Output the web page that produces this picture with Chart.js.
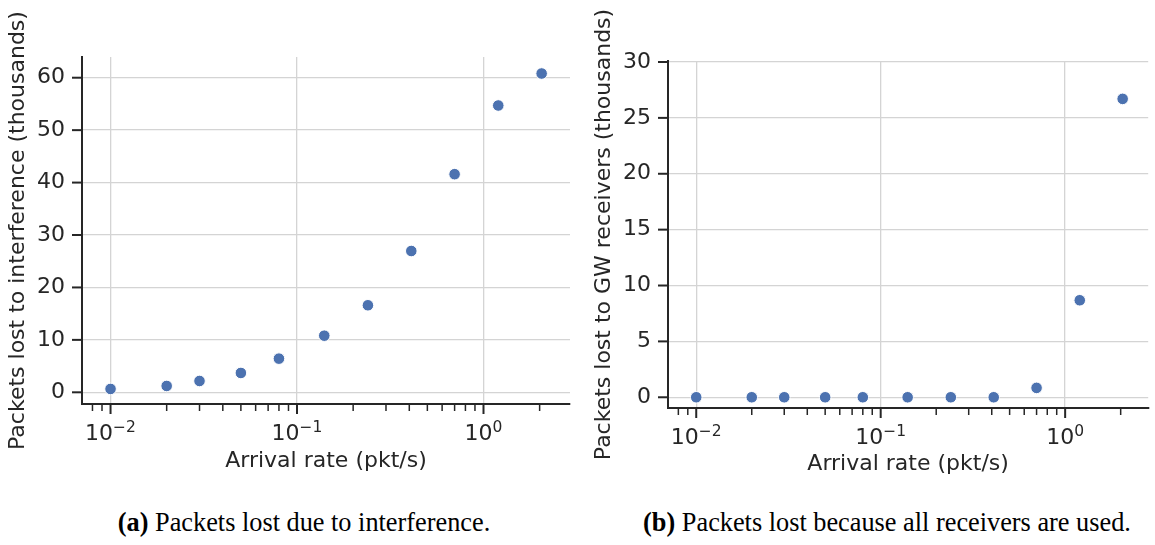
<!DOCTYPE html>
<html>
<head>
<meta charset="utf-8">
<script src="https://cdn.jsdelivr.net/npm/chart.js@4/dist/chart.umd.min.js"></script>
<style>
  body { margin:0; background:#fff; width:1155px; height:545px; position:relative; overflow:hidden; }
  .panel { position:absolute; top:0; }
  .caption { position:absolute; font-family:"Liberation Serif","Times New Roman",serif; font-size:26.3px; line-height:1; color:#000; white-space:nowrap; transform:translateX(-50%); }
</style>
</head>
<body>
<div class="panel" style="left:0px"><canvas id="chartA" width="580" height="480"></canvas></div>
<div class="panel" style="left:580px"><canvas id="chartB" width="575" height="480"></canvas></div>
<div class="caption" style="left:304px;top:510px"><b>(a)</b> Packets lost due to interference.</div>
<div class="caption" style="left:887px;top:510px"><b>(b)</b> Packets lost because all receivers are used.</div>
<script>
// arrival rates (pkt/s), same for both panels
const arrivalRates = [0.01, 0.02, 0.03, 0.05, 0.08, 0.14, 0.24, 0.41, 0.7, 1.2, 2.05];
// packets lost, in thousands
const lostInterference = [0.64, 1.21, 2.16, 3.69, 6.42, 10.8, 16.6, 26.95, 41.6, 54.7, 60.8];
const lostReceivers = [0, 0, 0, 0, 0, 0, 0, 0, 0.84, 8.68, 26.7];

const xMajorTicks = [0.01, 0.1, 1];
const xTickBase = '10';
const xTickExponents = ['−2', '−1', '0'];
const xMinorTicks = [0.008, 0.009, 0.02, 0.03, 0.04, 0.05, 0.06, 0.07, 0.08, 0.09,
                     0.2, 0.3, 0.4, 0.5, 0.6, 0.7, 0.8, 0.9, 2];
const yTicksA = [0, 10, 20, 30, 40, 50, 60];
const yTicksB = [0, 5, 10, 15, 20, 25, 30];

const INK = '#262626';
const GRID = '#d4d4d4';
const DOT = '#4c72b0';
const FAMILY = 'DejaVu Sans';
const FONT = { family: FAMILY, size: 22 };

// matplotlib-like tick marks (long majors, short minors) and 10^n labels
const tickMarks = {
  id: 'tickMarks',
  afterDraw(chart) {
    const { ctx, chartArea } = chart;
    const xs = chart.scales.x, ys = chart.scales.y;
    ctx.save();
    ctx.strokeStyle = INK;
    xs.ticks.forEach(t => {
      const major = xMajorTicks.includes(t.value);
      const px = xs.getPixelForValue(t.value);
      ctx.lineWidth = major ? 2 : 1.5;
      ctx.beginPath();
      ctx.moveTo(px, chartArea.bottom);
      ctx.lineTo(px, chartArea.bottom + (major ? 10 : 7));
      ctx.stroke();
    });
    ys.ticks.forEach(t => {
      const py = ys.getPixelForValue(t.value);
      ctx.lineWidth = 2;
      ctx.beginPath();
      ctx.moveTo(chartArea.left - 10, py);
      ctx.lineTo(chartArea.left, py);
      ctx.stroke();
    });

    ctx.fillStyle = INK;
    ctx.textBaseline = 'alphabetic';
    ctx.textAlign = 'left';
    const baseY = chartArea.bottom + 36;
    xMajorTicks.forEach((v, i) => {
      const px = xs.getPixelForValue(v);
      ctx.font = '22px "' + FAMILY + '"';
      const wb = ctx.measureText(xTickBase).width;
      ctx.font = '15.5px "' + FAMILY + '"';
      const we = ctx.measureText(xTickExponents[i]).width;
      const x0 = px - (wb + we) / 2;
      ctx.font = '22px "' + FAMILY + '"';
      ctx.fillText(xTickBase, x0, baseY);
      ctx.font = '15.5px "' + FAMILY + '"';
      ctx.fillText(xTickExponents[i], x0 + wb, baseY - 8);
    });
    ctx.restore();
  }
};

function makeChart(id, values, yTicks, yMin, yMax, xMax, yLabel, box) {
  const ctx = document.getElementById(id).getContext('2d');
  return new Chart(ctx, {
    type: 'scatter',
    data: {
      datasets: [{
        data: arrivalRates.map((x, i) => ({ x, y: values[i] })),
        backgroundColor: DOT,
        borderColor: '#ffffff',
        borderWidth: 1,
        pointRadius: 5.8
      }]
    },
    options: {
      responsive: false,
      animation: false,
      layout: { padding: { top: box.top, right: box.right, left: 0, bottom: 0 } },
      plugins: { legend: { display: false }, tooltip: { enabled: false } },
      scales: {
        x: {
          type: 'logarithmic',
          min: 0.00703,
          max: xMax,
          afterBuildTicks: s => {
            s.ticks = xMajorTicks.concat(xMinorTicks).sort((a, b) => a - b).map(v => ({ value: v }));
          },
          afterFit: s => { s.height = box.xh; },
          grid: {
            drawTicks: false,
            lineWidth: 1.3,
            color: c => (c.tick && xMajorTicks.includes(c.tick.value)) ? GRID : 'rgba(0,0,0,0)'
          },
          border: { display: true, color: INK, width: 2 },
          ticks: { autoSkip: false, maxRotation: 0, font: FONT, callback: () => '' },
          title: { display: true, text: 'Arrival rate (pkt/s)', color: INK, font: FONT, padding: { top: 0, bottom: box.xtp } }
        },
        y: {
          min: yMin,
          max: yMax,
          afterBuildTicks: s => { s.ticks = yTicks.map(v => ({ value: v })); },
          afterFit: s => { s.width = box.yw; },
          grid: { drawTicks: false, lineWidth: 1.3, color: GRID },
          border: { display: true, color: INK, width: 2 },
          ticks: { padding: 17, color: INK, font: FONT },
          title: { display: true, text: yLabel, color: INK, font: FONT, padding: { top: box.ytp, bottom: 0 } }
        }
      }
    },
    plugins: [tickMarks]
  });
}

makeChart('chartA', lostInterference, yTicksA, -2.23, 63.95, 2.91,
  'Packets lost to interference (thousands)',
  { top: 57, right: 10, xh: 76, yw: 82, xtp: 6, ytp: 5 });

makeChart('chartB', lostReceivers, yTicksB, -0.96, 30.09, 2.82,
  'Packets lost to GW receivers (thousands)',
  { top: 61, right: 0, xh: 72, yw: 88, xtp: 3, ytp: 11 });
</script>
</body>
</html>
